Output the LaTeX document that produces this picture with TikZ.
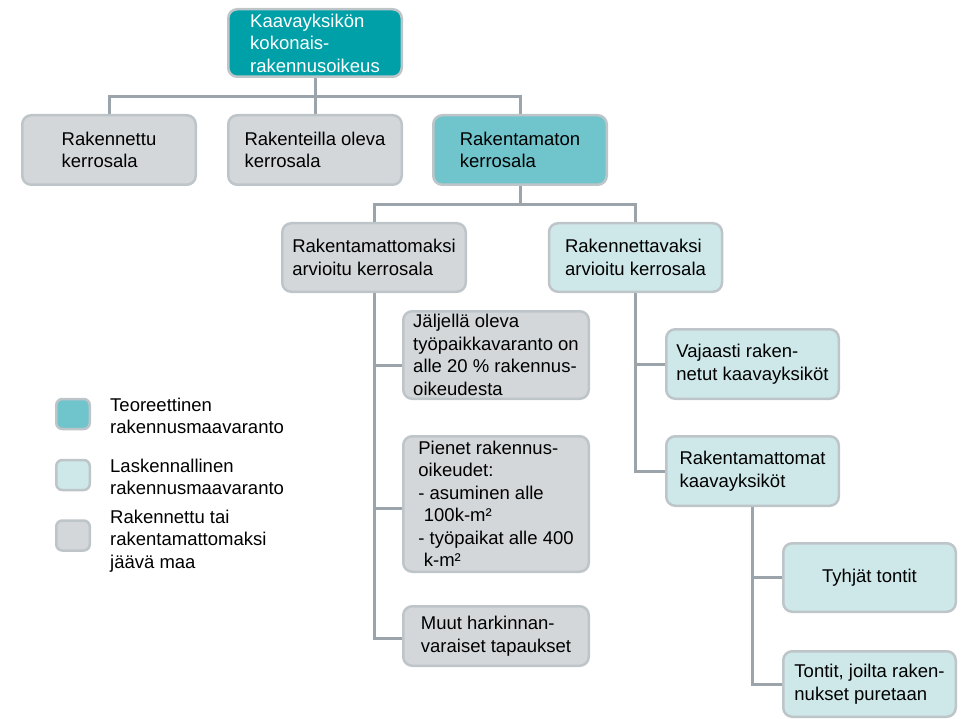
\documentclass[tikz,border=0pt]{standalone}
\usepackage{fontspec}
\setmainfont{Liberation Sans}
\usetikzlibrary{backgrounds}
\definecolor{darkteal}{RGB}{0,160,168}
\definecolor{midteal}{RGB}{112,196,203}
\definecolor{lightteal}{RGB}{206,232,233}
\definecolor{greyfill}{RGB}{212,215,218}
\definecolor{bordercol}{RGB}{190,197,201}
\definecolor{linecol}{RGB}{155,164,170}
\begin{document}
\begin{tikzpicture}[x=1pt,y=-1pt,
  box/.style={draw=bordercol, line width=2.5pt, rounded corners=9pt, align=left,
    inner sep=2pt, font=\fontsize{18.5}{22.5}\selectfont, text=black},
  greybox/.style={box, fill=greyfill},
  lightbox/.style={box, fill=lightteal},
  midbox/.style={box, fill=midteal},
  darkbox/.style={box, fill=darkteal, text=white},
  swatch/.style={draw=bordercol, line width=2.5pt, rounded corners=6pt,
    minimum width=33.5pt, minimum height=30pt, inner sep=0pt},
  legtext/.style={anchor=west, inner sep=0pt, align=left,
    font=\fontsize{18.5}{22.5}\selectfont},
  conn/.style={draw=linecol, line width=3pt}
]
\useasboundingbox (0,0) rectangle (965,719);

% level 0
\node[darkbox, minimum width=173.5pt, minimum height=67.5pt] (top) at (315,43)
  {Kaavayksikön\\kokonais-\\rakennusoikeus};

% level 1
\node[greybox, minimum width=173.5pt, minimum height=69.5pt] (b1) at (109,150)
  {Rakennettu\\kerrosala};
\node[greybox, minimum width=173.5pt, minimum height=69.5pt] (b2) at (315,150)
  {Rakenteilla oleva\\kerrosala};
\node[midbox, minimum width=173.5pt, minimum height=69.5pt] (b3) at (520,150)
  {Rakentamaton\\kerrosala};

% level 2
\node[greybox, minimum width=183.5pt, minimum height=68.5pt] (c1) at (374,257.5)
  {Rakentamattomaksi\\arvioitu kerrosala};
\node[lightbox, minimum width=173pt, minimum height=68.5pt] (c2) at (635.5,257.5)
  {Rakennettavaksi\\arvioitu kerrosala};

% level 3 left
\node[greybox, minimum width=185.5pt, minimum height=87.5pt] (d1) at (496,355)
  {Jäljellä oleva\\työpaikkavaranto on\\alle 20 \% rakennus-\\oikeudesta};
\node[greybox, minimum width=185.5pt, minimum height=135.5pt] (d2) at (496,504)
  {Pienet rakennus-\\oikeudet:\\- asuminen alle\\\hspace*{0.3em}100k-m²\\- työpaikat alle 400\\\hspace*{0.3em}k-m²};
\node[greybox, minimum width=185.5pt, minimum height=59.5pt] (d3) at (496,636)
  {Muut harkinnan-\\varaiset tapaukset};

% level 3 right
\node[lightbox, minimum width=172.5pt, minimum height=69.5pt] (e1) at (752.5,364)
  {Vajaasti raken-\\netut kaavayksiköt};
\node[lightbox, minimum width=172.5pt, minimum height=69.5pt] (e2) at (752.5,471)
  {Rakentamattomat\\kaavayksiköt};

% level 4
\node[lightbox, minimum width=172.5pt, minimum height=68.5pt] (f1) at (869.5,577.5)
  {Tyhjät tontit};
\node[lightbox, minimum width=172.5pt, minimum height=65.5pt] (f2) at (869.5,684)
  {Tontit, joilta raken-\\nukset puretaan};

% legend
\node[swatch, fill=midteal] (s1) at (73,414) {};
\node[swatch, fill=lightteal] (s2) at (73,475) {};
\node[swatch, fill=greyfill] (s3) at (73,535.5) {};
\node[legtext] (l1) at (110,416) {Teoreettinen\\rakennusmaavaranto};
\node[legtext] (l2) at (110,477) {Laskennallinen\\rakennusmaavaranto};
\node[legtext] (l3) at (110,541) {Rakennettu tai\\rakentamattomaksi\\jäävä maa};

\begin{scope}[on background layer]
  \draw[conn] (top.south) -- ++(0,19) coordinate (j1);
  \draw[conn] (j1) -| (b1.north);
  \draw[conn] (j1) -| (b3.north);
  \draw[conn] (j1) -- (b2.north);

  \draw[conn] (b3.south) -- ++(0,19) coordinate (j2);
  \draw[conn] (j2) -| (c1.north);
  \draw[conn] (j2) -| (c2.north);

  \draw[conn] (c1.south) |- ([yshift=-10pt]d1.west);
  \draw[conn] (c1.south) |- ([yshift=-4pt]d2.west);
  \draw[conn] (c1.south) |- ([yshift=-2pt]d3.west);

  \draw[conn] (c2.south) |- (e1.west);
  \draw[conn] (c2.south) |- (e2.west);

  \draw[conn] (e2.south) |- (f1.west);
  \draw[conn] (e2.south) |- (f2.west);
\end{scope}
\end{tikzpicture}
\end{document}
